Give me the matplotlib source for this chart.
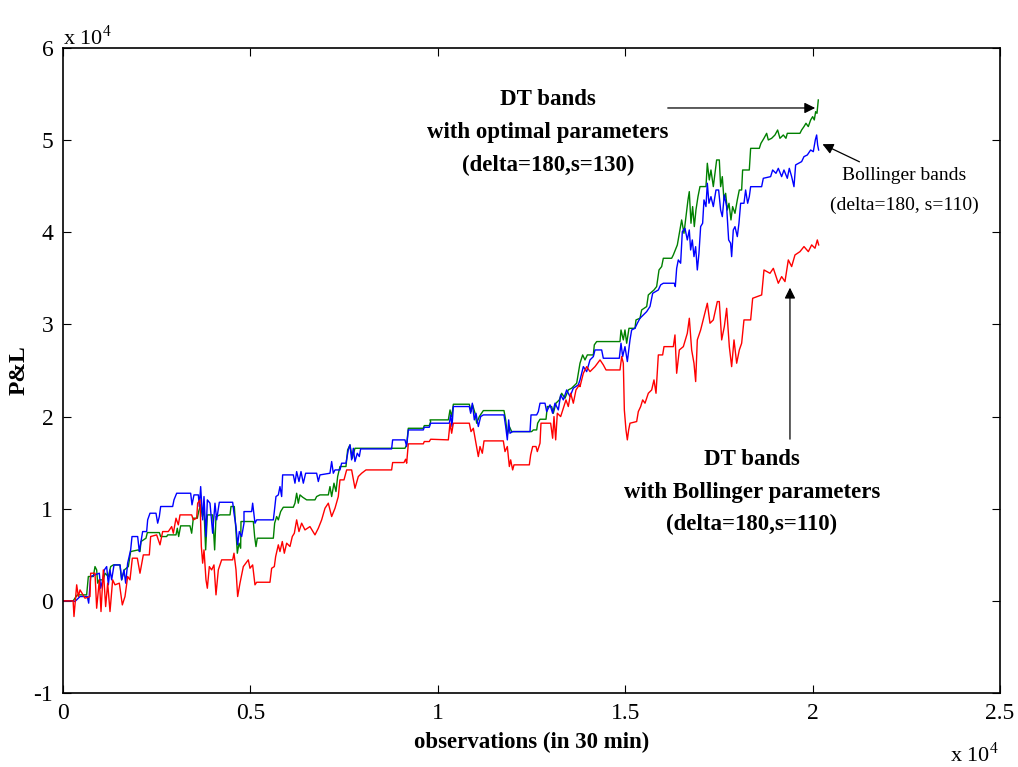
import matplotlib
matplotlib.use('Agg')
import matplotlib.pyplot as plt

plt.rcParams['font.family'] = ['Liberation Serif', 'DejaVu Serif']
plt.rcParams['mathtext.fontset'] = 'custom'
plt.rcParams['mathtext.rm'] = 'Liberation Serif'

green = [(0, 0), (270, 0), (320, 290), (382, 650), (631, 650), (676, 2640), (809, 2640), (854, 3720),
         (898, 3360), (925, 1920), (969, 2280), (1076, 2280), (1121, 3000), (1210, 2640), (1272, 3720),
         (1343, 3900), (1521, 3900), (1565, 2280), (1636, 3360), (1743, 3720), (1805, 5350), (2010, 5530),
         (2054, 5350), (2081, 6440), (2214, 6800), (2250, 7410), (2570, 7410), (2606, 6980), (2766, 6980),
         (2792, 7160), (3015, 7160), (3050, 7880), (3086, 6980), (3139, 8140), (3388, 8140), (3433, 7340),
         (3477, 8970), (3584, 8970), (3619, 9690), (3673, 10420), (3717, 9150), (3762, 9870), (3806, 5530),
         (3851, 9330), (3993, 9330), (4046, 5530), (4082, 9150), (4189, 9330), (4456, 9330), (4482, 10240),
         (4571, 10240), (4607, 8060), (4651, 5170), (4696, 6260), (4740, 5710), (4749, 8610), (5078, 8610),
         (5113, 6980), (5149, 5890), (5184, 6800), (5612, 6800), (5647, 8430), (5700, 9150), (5745, 8790),
         (5807, 9690), (5878, 10160), (6145, 10160), (6189, 10600), (6234, 11680), (6278, 10600),
         (6323, 11500), (6394, 11250), (6501, 10960), (6723, 10960), (6767, 11320), (6856, 11500),
         (7079, 11500), (7123, 12400), (7168, 11320), (7230, 12770), (7283, 11860), (7328, 13490),
         (7390, 14580), (7550, 14580), (7594, 16380), (7657, 16930), (7719, 15480), (7790, 16560),
         (9124, 16560), (9169, 16930), (9213, 18730), (9613, 18730), (9640, 19020), (9773, 19020),
         (9809, 19460), (9792, 19640), (10281, 19640), (10326, 20720), (10370, 20000), (10415, 21340),
         (10841, 21340), (10886, 20540), (10930, 21270), (10993, 20360), (11037, 19280), (11108, 20000),
         (11215, 20650), (11766, 20650), (11811, 19640), (11855, 18010), (11909, 18920), (11971, 18370),
         (12504, 18370), (12549, 18550), (12638, 18550), (12664, 19280), (12727, 19710), (12887, 19710),
         (12922, 21090), (13038, 21090), (13082, 20360), (13153, 21450), (13242, 21810), (13304, 22530),
         (13393, 21990), (13482, 22890), (13571, 23080), (13705, 23620), (13794, 25790), (13865, 26690),
         (13927, 26150), (13990, 26690), (14150, 26690), (14176, 27780), (14239, 28140), (14861, 28140),
         (14888, 29400), (14950, 28320), (14994, 29400), (15039, 27960), (15101, 29580), (15261, 29580),
         (15288, 30490), (15395, 30670), (15439, 31570), (15573, 31940), (15617, 33200), (15768, 33740),
         (15839, 34110), (15902, 35910), (15973, 36280), (16017, 37180), (16239, 37180), (16284, 37540),
         (16391, 38630), (16461, 40250), (16506, 41340), (16568, 39890), (16621, 41700), (16675, 43510),
         (16710, 44410), (16755, 40980), (16799, 42790), (16844, 40620), (16888, 42420), (16942, 43870),
         (16995, 44960), (17155, 44960), (17191, 47490), (17244, 45680), (17288, 46760), (17351, 44960),
         (17395, 46400), (17440, 47850), (17511, 47850), (17546, 44950), (17591, 46040), (17635, 43510),
         (17680, 44230), (17724, 42420), (17769, 43150), (17822, 41340), (17866, 42790), (17929, 42060),
         (17991, 43510), (18044, 44590), (18107, 44590), (18133, 46760), (18311, 46760), (18347, 49110),
         (18578, 49110), (18622, 49660), (18702, 50200), (18774, 50740), (18818, 50020), (18907, 50200),
         (18996, 50560), (19067, 51100), (19129, 50200), (19218, 50560), (19289, 50200), (19325, 50740),
         (19663, 50740), (19707, 51100), (19770, 51470), (19823, 51830), (19885, 51470), (19948, 52190),
         (20001, 52550), (20045, 52190), (20081, 53090), (20117, 52910), (20152, 54360)]

blue = [(0, 0), (270, 0), (320, -70), (454, 470), (649, 470), (685, -250), (738, 2640), (969, 3000),
        (1005, 1370), (1058, 2280), (1103, 3360), (1165, 3720), (1210, 1740), (1254, 3360), (1298, 2280),
        (1361, 3900), (1521, 3900), (1565, 2280), (1627, 3360), (1672, 1920), (1725, 4090), (1805, 5530),
        (1841, 6980), (1992, 6980), (2036, 5350), (2081, 6440), (2125, 7520), (2232, 7520), (2259, 8790),
        (2321, 9510), (2481, 9510), (2526, 8430), (2570, 9150), (2606, 10240), (2926, 10240), (2961, 10960),
        (3033, 11680), (3406, 11680), (3442, 10420), (3495, 11500), (3611, 11500), (3637, 10240),
        (3673, 12400), (3726, 8790), (3762, 11320), (3815, 6980), (3851, 10960), (3922, 10600),
        (3993, 7340), (4055, 10600), (4100, 8790), (4171, 10700), (4527, 10700), (4562, 9510),
        (4616, 8060), (4660, 6080), (4704, 7520), (4767, 6980), (4829, 8430), (4829, 9690), (5033, 9690),
        (5060, 10600), (5122, 8430), (5167, 8790), (5612, 8790), (5638, 9690), (5682, 11320), (5745, 11500),
        (5789, 12400), (5834, 11320), (5860, 13670), (6145, 13670), (6189, 12770), (6234, 14030),
        (6296, 12950), (6350, 14030), (6412, 12770), (6474, 13850), (6767, 13850), (6812, 12950),
        (6856, 13670), (7123, 13850), (7168, 15120), (7212, 13850), (7257, 14210), (7390, 14210),
        (7434, 14940), (7550, 14940), (7612, 16380), (7657, 16930), (7701, 15300), (7746, 16560),
        (7790, 15120), (7852, 16020), (7906, 15660), (7941, 16490), (8768, 16490), (8795, 17470),
        (9124, 17470), (9169, 16750), (9213, 18550), (9613, 18550), (9640, 18840), (9773, 18840),
        (9809, 19280), (10308, 19280), (10343, 20180), (10379, 18920), (10415, 21090), (10841, 21090),
        (10877, 20360), (10921, 21450), (10975, 19640), (11019, 20360), (11081, 18920), (11144, 20000),
        (11215, 20180), (11766, 20180), (11811, 18920), (11855, 17470), (11891, 19640), (11926, 18190),
        (11997, 18370), (12460, 18370), (12487, 20180), (12638, 20180), (12682, 20540), (12727, 21450),
        (12860, 21450), (12905, 20540), (12994, 21270), (13064, 20360), (13127, 21450), (13216, 20720),
        (13278, 22350), (13349, 21810), (13438, 22890), (13527, 22170), (13616, 23080), (13749, 23440),
        (13794, 23980), (13883, 25420), (13972, 24880), (14061, 26150), (14150, 26510), (14194, 27230),
        (14372, 27230), (14416, 26330), (14843, 26330), (14888, 27960), (14932, 26510), (14994, 27590),
        (15057, 25970), (15128, 28320), (15172, 29400), (15261, 29580), (15324, 30130), (15395, 30670),
        (15484, 31030), (15573, 31390), (15661, 31940), (15733, 33380), (15884, 33740), (15946, 34290),
        (16017, 34470), (16310, 34470), (16337, 34110), (16373, 36090), (16417, 37000), (16479, 36640),
        (16524, 40070), (16595, 40430), (16657, 39170), (16710, 40250), (16746, 38080), (16790, 39170),
        (16835, 37360), (16879, 38440), (16924, 35910), (16968, 37720), (17013, 40620), (17066, 40980),
        (17102, 43510), (17155, 42790), (17191, 45320), (17235, 43150), (17288, 43870), (17351, 42790),
        (17422, 44590), (17493, 44590), (17546, 42420), (17591, 41700), (17644, 44050), (17706, 42790),
        (17760, 39170), (17813, 38810), (17840, 37360), (17884, 40250), (17929, 40610), (17991, 39530),
        (18035, 40980), (18080, 43150), (18169, 43150), (18213, 44590), (18267, 43150), (18311, 43870),
        (18347, 44950), (18640, 44950), (18685, 45860), (18880, 46040), (18934, 46760), (19023, 46400),
        (19085, 46940), (19174, 46040), (19236, 46760), (19325, 45860), (19378, 46940), (19441, 46040),
        (19503, 44950), (19547, 47310), (19707, 47670), (19770, 48210), (19859, 48390), (19948, 48930),
        (20019, 48750), (20072, 50020), (20108, 50560), (20134, 49480), (20161, 48930)]

red = [(0, 0), (270, 0), (293, -1700), (365, 1740), (409, 470), (454, 1190), (587, 290), (720, 470),
       (738, 3000), (854, 3000), (898, -800), (970, 2280), (1014, -1160), (1076, 3360), (1138, -620),
       (1192, 1920), (1254, -1160), (1325, 2280), (1387, 1740), (1503, 1920), (1583, -440), (1654, 470),
       (1725, 2640), (1787, 2280), (1850, 4630), (1983, 4630), (2054, 3000), (2143, 4990), (2303, 4990),
       (2339, 6980), (2499, 7160), (2588, 6080), (2659, 7520), (2810, 7520), (2899, 8060), (2944, 7340),
       (3015, 8970), (3077, 8250), (3122, 9330), (3433, 9330), (3477, 8790), (3566, 8970), (3593, 10600),
       (3655, 10960), (3691, 5900), (3726, 4090), (3762, 5530), (3815, 2280), (3851, 1370), (3904, 3720),
       (3966, 3360), (4028, 3900), (4082, 650), (4144, 3360), (4233, 4450), (4527, 4450), (4562, 5170),
       (4616, 3360), (4660, 470), (4722, 1920), (4793, 3360), (4811, 3720), (4944, 4450), (4989, 3540),
       (5060, 3900), (5122, 1740), (5167, 2020), (5522, 2020), (5567, 3540), (5638, 3720), (5674, 4810),
       (5745, 6080), (5789, 5350), (5851, 6440), (5905, 5170), (5967, 6260), (6056, 5900), (6118, 6980),
       (6172, 7340), (6234, 8790), (6296, 7520), (6367, 8430), (6456, 7700), (6589, 8060), (6723, 7160),
       (6812, 7880), (6901, 8790), (6990, 10050), (7079, 10600), (7168, 9150), (7257, 10050),
       (7345, 11320), (7390, 13130), (7497, 13130), (7568, 14210), (7701, 14210), (7790, 12220),
       (7879, 13490), (7968, 13850), (8084, 14210), (8768, 14210), (8795, 15010), (9097, 15010),
       (9142, 15370), (9169, 14940), (9213, 17040), (9613, 17040), (9640, 17290), (9773, 17290),
       (9809, 17540), (10281, 17470), (10326, 19280), (10370, 18190), (10415, 19280), (10841, 19280),
       (10886, 18370), (10948, 18730), (11019, 17110), (11081, 15660), (11126, 16750), (11188, 16020),
       (11233, 17360), (11748, 17360), (11793, 16200), (11855, 16750), (11909, 14580), (11944, 15300),
       (11997, 14210), (12033, 14760), (12442, 14760), (12478, 15840), (12531, 16750), (12620, 16750),
       (12655, 16200), (12727, 17110), (12753, 19280), (13011, 19280), (13064, 17650), (13100, 20000),
       (13145, 17470), (13189, 20360), (13278, 20000), (13349, 20900), (13420, 21810), (13482, 21090),
       (13545, 22530), (13616, 21450), (13687, 22890), (13776, 23440), (13794, 23250), (13883, 24700),
       (13972, 25420), (14061, 24880), (14194, 25420), (14328, 26150), (14416, 25610), (14488, 25060),
       (14861, 25060), (14906, 26510), (14950, 25790), (14977, 20720), (15021, 18550), (15057, 17470),
       (15092, 18550), (15128, 19280), (15306, 19460), (15350, 20540), (15412, 21080), (15466, 21810),
       (15528, 21450), (15617, 22530), (15706, 22890), (15768, 23980), (15822, 22530), (15884, 26690),
       (15999, 26690), (16035, 27590), (16284, 27590), (16328, 28860), (16373, 24700), (16444, 27230),
       (16551, 27590), (16657, 29040), (16711, 30670), (16773, 27230), (16835, 25790), (16880, 23800),
       (16924, 28320), (17013, 29400), (17102, 30850), (17191, 32300), (17262, 30130), (17351, 30490),
       (17458, 32480), (17511, 32480), (17574, 28320), (17645, 29770), (17707, 31750), (17778, 27590),
       (17840, 25420), (17903, 28320), (17974, 25790), (18045, 27230), (18107, 27960), (18169, 30490),
       (18347, 30490), (18401, 32840), (18641, 33200), (18703, 35910), (18863, 35550), (18952, 36090),
       (19085, 34470), (19174, 35190), (19263, 34650), (19352, 37000), (19441, 36280), (19530, 37540),
       (19663, 37900), (19770, 38450), (19886, 37900), (19975, 38630), (20064, 38270), (20126, 39170),
       (20162, 38630)]

x_ticks = [0, 5000, 10000, 15000, 20000, 25000]
x_labels = ['0', '0.5', '1', '1.5', '2', '2.5']
y_ticks = [-10000, 0, 10000, 20000, 30000, 40000, 50000, 60000]
y_labels = ['-1', '0', '1', '2', '3', '4', '5', '6']

fig = plt.figure(figsize=(10.18, 7.67), dpi=100)
ax = fig.add_axes([63 / 1018, 1 - 693 / 767, 937 / 1018, 645 / 767])

for pts, col in [(green, (0, 0.5, 0)), (blue, (0, 0, 1)), (red, (1, 0, 0))]:
    xs, ys = zip(*pts)
    ax.plot(xs, ys, color=col, lw=1.0)

ax.set_xlim(0, 25000)
ax.set_ylim(-10000, 60000)
ax.set_xticks(x_ticks)
ax.set_xticklabels(x_labels)
ax.set_yticks(y_ticks)
ax.set_yticklabels(y_labels)
ax.tick_params(direction='in', length=6, width=0.8, labelsize=17, top=True, right=True, pad=7)
for s in ax.spines.values():
    s.set_linewidth(1.2)

ax.set_xlabel('observations (in 30 min)', fontsize=16.5, fontweight='bold', labelpad=6)
ax.set_ylabel('P&L', fontsize=17, fontweight='bold', labelpad=3)

fig.text(63 / 1018, 1 - 45 / 767, r'x 10$^{4}$', fontsize=16, ha='left', va='baseline')
fig.text(950 / 1018, 1 - 762 / 767, r'x 10$^{4}$', fontsize=16, ha='left', va='baseline')

# annotations
txt = dict(fontsize=16.5, fontweight='bold', ha='center', va='center')
for s, y in zip(['DT bands', 'with optimal parameters', '(delta=180,s=130)'], [54360, 50780, 47200]):
    ax.text(12940, y, s, **txt)
for s, y in zip(['DT bands', 'with Bollinger parameters', '(delta=180,s=110)'], [15300, 11720, 8250]):
    ax.text(18383, y, s, **txt)
for s, y in zip(['Bollinger bands', '(delta=180, s=110)'], [46110, 42970]):
    ax.text(22450, y, s, fontsize=14, ha='center', va='center')

arr = dict(arrowstyle='-|>', color='black', lw=0.9, mutation_scale=16)
ax.annotate('', xy=(20143, 53490), xytext=(16061, 53490), arrowprops=arr)
ax.annotate('', xy=(20197, 49690), xytext=(21317, 47520), arrowprops=arr)
ax.annotate('', xy=(19396, 34290), xytext=(19396, 17250), arrowprops=arr)

fig.savefig('out.png', dpi=100)
